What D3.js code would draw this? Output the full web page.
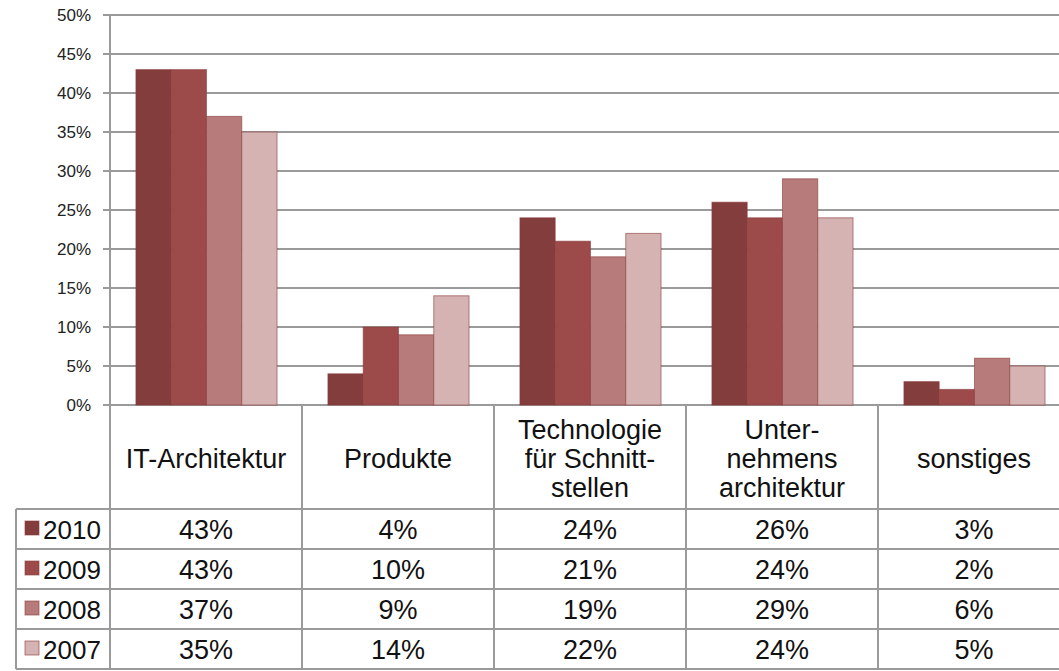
<!DOCTYPE html>
<html>
<head>
<meta charset="utf-8">
<script src="https://cdn.jsdelivr.net/npm/d3@7"></script>
<style>
  body { margin: 0; background: #fff; }
  svg { display: block; font-family: "Liberation Sans", Arial, sans-serif; }
</style>
</head>
<body>
<div id="chart"></div>
<script>
// categories (lines of the header label)
const categories = ['IT-Architektur', 'Produkte', 'Technologie für Schnitt-stellen', 'Unter-nehmens architektur', 'sonstiges'];
const categoryLines = [
    ['IT-Architektur'],
    ['Produkte'],
    ['Technologie', 'für Schnitt-', 'stellen'],
    ['Unter-', 'nehmens', 'architektur'],
    ['sonstiges']
];
const years = ['2010', '2009', '2008', '2007'];
const colours = ['#833d3d', '#9c4a4a', '#b87b7b', '#d4b3b2'];
const values2010 = [43, 4, 24, 26, 3];
const values2009 = [43, 10, 21, 24, 2];
const values2008 = [37, 9, 19, 29, 6];
const values2007 = [35, 14, 22, 24, 5];
const series = [values2010, values2009, values2008, values2007];
const yTicks = [0, 5, 10, 15, 20, 25, 30, 35, 40, 45, 50];

const width = 1059, height = 671;
const svg = d3.select('#chart').append('svg')
    .attr('width', width)
    .attr('height', height);

const plotLeft = 110, plotRight = 1070, plotTop = 15, plotBottom = 405;
const headerBottom = 509, rowH = 40;
const tableFont = 27;

const x = d3.scaleBand().domain(d3.range(categories.length)).range([plotLeft, plotRight]);
const bw = x.bandwidth();
const xInner = d3.scaleBand().domain(d3.range(years.length)).range([bw * 0.135, bw * 0.87]);
const y = d3.scaleLinear().domain([0, 50]).range([plotBottom, plotTop]);

// gridlines
svg.append('g')
    .selectAll('line')
    .data(yTicks)
    .enter()
    .append('line')
    .attr('x1', plotLeft - 7)
    .attr('x2', width)
    .attr('y1', d => y(d))
    .attr('y2', d => y(d))
    .attr('stroke', '#9a9a9a')
    .attr('stroke-width', 2);

// tick labels
svg.append('g')
    .selectAll('text')
    .data(yTicks)
    .enter()
    .append('text')
    .attr('x', 91)
    .attr('y', d => y(d))
    .attr('dy', '0.35em')
    .attr('text-anchor', 'end')
    .attr('font-size', 17)
    .attr('fill', '#222')
    .text(d => d + '%');

// bars
series.forEach((vals, s) => {
    svg.append('g')
        .selectAll('rect')
        .data(vals)
        .enter()
        .append('rect')
        .attr('x', (d, i) => x(i) + xInner(s))
        .attr('width', xInner.bandwidth())
        .attr('y', d => y(d))
        .attr('height', d => y(0) - y(d))
        .attr('fill', colours[s])
        .attr('stroke', '#8a3b3b')
        .attr('stroke-opacity', 0.6)
        .attr('stroke-width', 1);
});

// y axis line
const tableBottom = headerBottom + rowH * years.length;
svg.append('line')
    .attr('x1', plotLeft).attr('x2', plotLeft)
    .attr('y1', plotTop).attr('y2', tableBottom)
    .attr('stroke', '#9a9a9a').attr('stroke-width', 2);

// table grid
svg.append('g')
    .selectAll('line')
    .data(d3.range(1, categories.length + 1))
    .enter()
    .append('line')
    .attr('x1', i => x(i) !== undefined ? x(i) : plotRight)
    .attr('x2', i => x(i) !== undefined ? x(i) : plotRight)
    .attr('y1', plotBottom)
    .attr('y2', tableBottom)
    .attr('stroke', '#9a9a9a').attr('stroke-width', 2);

svg.append('g')
    .selectAll('line')
    .data(d3.range(years.length + 1))
    .enter()
    .append('line')
    .attr('x1', 16)
    .attr('x2', width)
    .attr('y1', r => headerBottom + r * rowH)
    .attr('y2', r => headerBottom + r * rowH)
    .attr('stroke', '#9a9a9a').attr('stroke-width', 2);

svg.append('line')
    .attr('x1', 16).attr('x2', 16)
    .attr('y1', headerBottom).attr('y2', tableBottom)
    .attr('stroke', '#9a9a9a').attr('stroke-width', 2);

// header labels
const lineH = 29;
categoryLines.forEach((lines, i) => {
    const cy = (plotBottom + headerBottom) / 2 + 2;
    const t = svg.append('text')
        .attr('text-anchor', 'middle')
        .attr('font-size', tableFont)
        .attr('fill', '#111');
    lines.forEach((ln, j) => {
        t.append('tspan')
            .attr('x', x(i) + bw / 2)
            .attr('y', cy + (j - (lines.length - 1) / 2) * lineH)
            .attr('dy', '0.35em')
            .text(ln);
    });
});

// legend column
years.forEach((yr, s) => {
    const cy = headerBottom + s * rowH + rowH / 2;
    svg.append('rect')
        .attr('x', 25).attr('y', cy - 8)
        .attr('width', 14).attr('height', 14)
        .attr('fill', colours[s])
        .attr('stroke', '#8a3b3b').attr('stroke-opacity', 0.6);
    svg.append('text')
        .attr('x', 43).attr('y', cy + 1)
        .attr('dy', '0.35em')
        .attr('font-size', tableFont - 1)
        .attr('fill', '#111')
        .text(yr);
});

// values
series.forEach((vals, s) => {
    svg.append('g')
        .selectAll('text')
        .data(vals)
        .enter()
        .append('text')
        .attr('x', (d, i) => x(i) + bw / 2)
        .attr('y', headerBottom + s * rowH + rowH / 2 + 1)
        .attr('dy', '0.35em')
        .attr('text-anchor', 'middle')
        .attr('font-size', tableFont)
        .attr('fill', '#111')
        .text(d => d + '%');
});
</script>
</body>
</html>
